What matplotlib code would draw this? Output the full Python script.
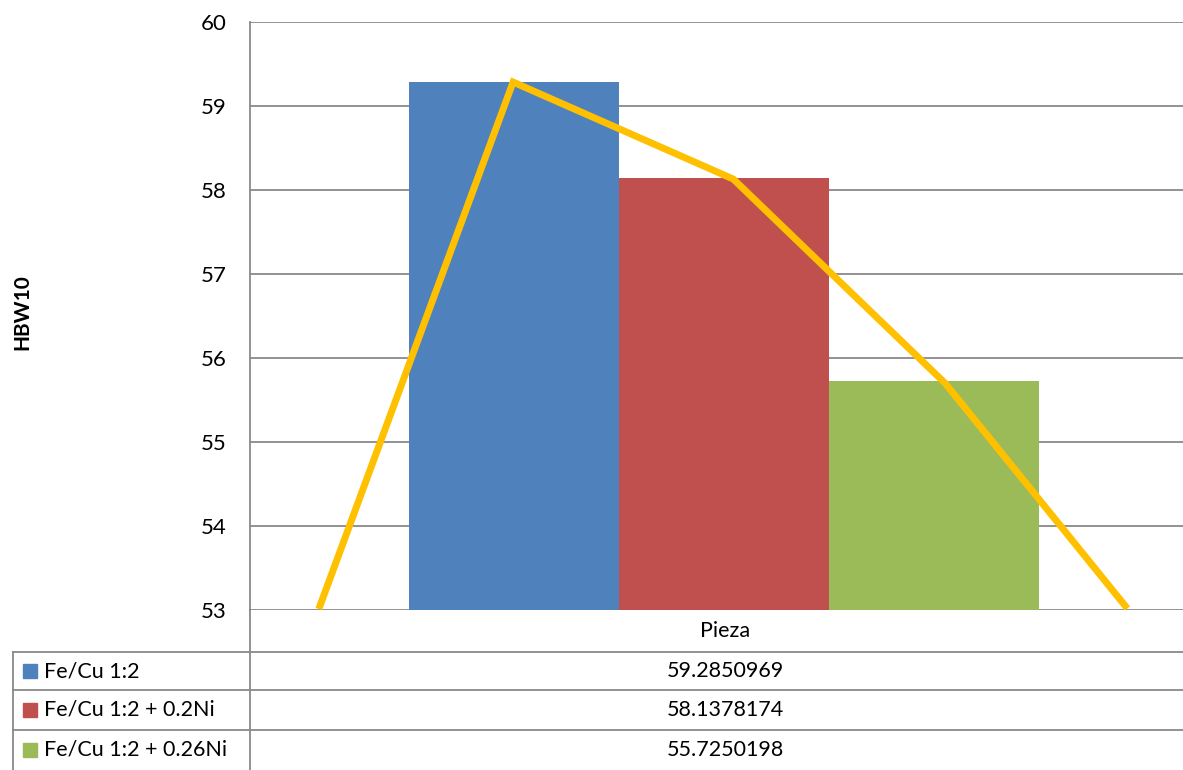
import matplotlib.pyplot as plt
from matplotlib.lines import Line2D
from matplotlib.patches import Rectangle

# datos
categoria = "Pieza"
series = ["Fe/Cu 1:2", "Fe/Cu 1:2 + 0.2Ni", "Fe/Cu 1:2 + 0.26Ni"]
valores = [59.2850969, 58.1378174, 55.7250198]
colores = ["#4F81BD", "#C0504D", "#9BBB59"]
# linea amarilla dibujada encima (posicion en el eje x de 0 a 1, valor HBW10)
linea_x = [0.075, 0.282, 0.518, 0.745, 0.938]
linea_y = [53.05, 59.285, 58.13, 55.70, 53.05]
yticks = [53, 54, 55, 56, 57, 58, 59, 60]

plt.rcParams['font.family'] = ['Lato', 'DejaVu Sans']

W, H = 1183, 770
fig = plt.figure(figsize=(W / 100, H / 100), dpi=100)

def fx(px):
    return px / W

def fy(py):
    return 1 - py / H

ax = fig.add_axes([fx(250), fy(610), fx(933), 588 / H])
ax.set_xlim(0, 1)
ax.set_ylim(53, 60)
ax.set_yticks(yticks)
ax.tick_params(axis='y', length=0, labelsize=16, pad=17)
ax.set_xticks([])
ax.grid(axis='y', color='#898989', linewidth=1.3)
ax.set_axisbelow(True)
for s in ['top', 'right', 'bottom']:
    ax.spines[s].set_visible(False)
ax.spines['left'].set_color('#898989')
ax.spines['left'].set_linewidth(1.3)

ancho = 0.225
centro = 0.508
for i, (v, c) in enumerate(zip(valores, colores)):
    ax.bar(centro + (i - 1) * ancho, v - 53, bottom=53, width=ancho, color=c)

ax.plot(linea_x, linea_y, color='#FFC000', linewidth=5, solid_joinstyle='miter', zorder=5)

fig.text(fx(22), fy(312), "HBW10", rotation=90, fontsize=15, fontweight='bold',
         ha='center', va='center')

# tabla de datos
gris = '#898989'
def hline(y, x0, x1):
    fig.add_artist(Line2D([fx(x0), fx(x1)], [fy(y), fy(y)], color=gris, linewidth=1.3))

def vline(x, y0, y1):
    fig.add_artist(Line2D([fx(x), fx(x)], [fy(y0), fy(y1)], color=gris, linewidth=1.3))

vline(250, 610, 770)
vline(13, 652, 770)
for y in [652, 690, 730]:
    hline(y, 13, W)

fs = 15.5
fig.text(fx(725), fy(631), categoria, fontsize=fs, ha='center', va='center')
filas_y = [671, 710, 750]
for nombre, v, c, y in zip(series, valores, colores, filas_y):
    fig.add_artist(Rectangle((fx(23), fy(y + 7)), fx(14), 14 / H, color=c,
                             transform=fig.transFigure))
    fig.text(fx(44), fy(y), nombre, fontsize=fs, ha='left', va='center')
    fig.text(fx(725), fy(y), f"{v:.7f}", fontsize=fs, ha='center', va='center')

fig.savefig("out.png", dpi=100)
